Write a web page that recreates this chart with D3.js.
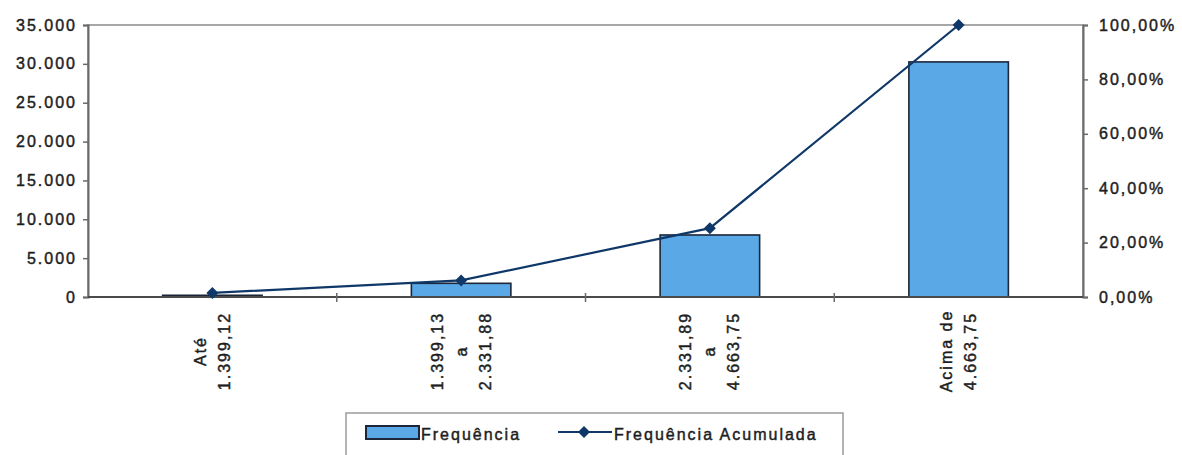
<!DOCTYPE html>
<html>
<head>
<meta charset="utf-8">
<script src="https://cdn.jsdelivr.net/npm/d3@7"></script>
<style>
  html, body { margin: 0; padding: 0; background: #fff; }
  svg { display: block; }
  text { font-family: "Liberation Sans", Arial, sans-serif; font-size: 16px; letter-spacing: 2px; fill: #1e1e1e; stroke: #1e1e1e; stroke-width: 0.45px; }
</style>
</head>
<body>
<svg id="chart" width="1182" height="455"></svg>
<script>
// Faixas salariais (R$) e respectivas frequências
const categories = [
  ["Até", "1.399,12"],
  ["1.399,13", "a", "2.331,88"],
  ["2.331,89", "a", "4.663,75"],
  ["Acima de", "4.663,75"]
];
const frequencia = [220, 1760, 7980, 30250];
const acumulada = [0.015, 0.061, 0.253, 1.0];
const leftTicks = [0, 5000, 10000, 15000, 20000, 25000, 30000, 35000];
const rightTicks = [0, 0.2, 0.4, 0.6, 0.8, 1.0];
const legendLabels = ["Frequência", "Frequência Acumulada"];

const br = d3.formatLocale({ decimal: ",", thousands: ".", grouping: [3], currency: ["R$", ""] });
const fmtNum = br.format(",.0f");
const fmtPct = br.format(".2%");

const svg = d3.select("#chart");
const plot = { left: 88, right: 1083, top: 25, bottom: 297 };
const keys = categories.map((_, i) => i);

const x = d3.scaleBand().domain(keys).range([plot.left, plot.right])
  .paddingInner(0.6).paddingOuter(0.3);
const yL = d3.scaleLinear().domain([0, 35000]).range([plot.bottom, plot.top]);
const yR = d3.scaleLinear().domain([0, 1]).range([plot.bottom, plot.top]);

const axisColor = "#6a6a6a";

// Plot frame
svg.append("rect")
  .attr("x", plot.left).attr("y", plot.top)
  .attr("width", plot.right - plot.left).attr("height", plot.bottom - plot.top)
  .attr("fill", "none").attr("stroke", "#8a8a8a").attr("stroke-width", 1.5);

// Left axis
const gL = svg.append("g").attr("transform", `translate(${plot.left},0)`)
  .call(d3.axisLeft(yL).tickValues(leftTicks).tickFormat(fmtNum).tickSize(5).tickPadding(8));
gL.select(".domain").attr("stroke", axisColor).attr("stroke-width", 2);
gL.selectAll(".tick line").attr("stroke", axisColor).attr("stroke-width", 1.5);
gL.selectAll(".tick text").attr("font-size", 16).attr("fill", "#1e1e1e")
  .attr("font-family", '"Liberation Sans", Arial, sans-serif').attr("dx", 2);

// Right axis
const gR = svg.append("g").attr("transform", `translate(${plot.right},0)`)
  .call(d3.axisRight(yR).tickValues(rightTicks).tickFormat(fmtPct).tickSize(5).tickPadding(11));
gR.select(".domain").attr("stroke", axisColor).attr("stroke-width", 2);
gR.selectAll(".tick line").attr("stroke", axisColor).attr("stroke-width", 1.5);
gR.selectAll(".tick text").attr("font-size", 16).attr("fill", "#1e1e1e")
  .attr("font-family", '"Liberation Sans", Arial, sans-serif');

// Bars
svg.append("g").selectAll("rect").data(frequencia).join("rect")
  .attr("x", (d, i) => x(i))
  .attr("y", d => yL(d))
  .attr("width", x.bandwidth())
  .attr("height", d => yL(0) - yL(d))
  .attr("fill", "#5aa9e6")
  .attr("stroke", "#1c2638")
  .attr("stroke-width", 1.6);

// Bottom axis line and category separators
svg.append("line")
  .attr("x1", plot.left).attr("x2", plot.right)
  .attr("y1", plot.bottom).attr("y2", plot.bottom)
  .attr("stroke", "#4a4a4a").attr("stroke-width", 2);
svg.append("g").selectAll("line").data(keys.slice(1)).join("line")
  .attr("x1", i => x(i) - x.step() * x.paddingInner() / 2)
  .attr("x2", i => x(i) - x.step() * x.paddingInner() / 2)
  .attr("y1", plot.bottom - 4).attr("y2", plot.bottom + 5)
  .attr("stroke", axisColor).attr("stroke-width", 1.5);

// Category labels (rotated, multi-line)
const cx = i => x(i) + x.bandwidth() / 2;
const lab = svg.append("g").selectAll("g").data(categories).join("g")
  .attr("transform", (d, i) => `translate(${cx(i)},352) rotate(-90)`);
lab.selectAll("text").data(d => d.map((t, j) => ({ t, j, n: d.length }))).join("text")
  .attr("x", 1)
  .attr("y", d => (d.j - (d.n - 1) / 2) * 24)
  .attr("text-anchor", "middle")
  .attr("dominant-baseline", "central")
  .text(d => d.t);

// Cumulative line with square markers turned 45°
const lineColor = "#0f3868";
const marker = d3.symbol().type(d3.symbolSquare).size(72);
svg.append("path")
  .datum(acumulada)
  .attr("fill", "none").attr("stroke", lineColor).attr("stroke-width", 2.2)
  .attr("d", d3.line().x((d, i) => cx(i)).y(d => yR(d)));
svg.append("g").selectAll("path").data(acumulada).join("path")
  .attr("transform", (d, i) => `translate(${cx(i)},${yR(d)}) rotate(45)`)
  .attr("d", marker).attr("fill", lineColor);

// Legend
const lg = svg.append("g");
lg.append("rect").attr("x", 346).attr("y", 413).attr("width", 497).attr("height", 60)
  .attr("fill", "#fff").attr("stroke", "#9a9a9a").attr("stroke-width", 1.5);
lg.append("rect").attr("x", 366).attr("y", 426).attr("width", 53).attr("height", 13)
  .attr("fill", "#5aa9e6").attr("stroke", "#1c2638").attr("stroke-width", 2);
lg.append("text").attr("x", 421).attr("y", 440).text(legendLabels[0]);
lg.append("line").attr("x1", 558).attr("x2", 612).attr("y1", 432).attr("y2", 432)
  .attr("stroke", lineColor).attr("stroke-width", 2.2);
lg.append("path").attr("transform", "translate(584,432) rotate(45)").attr("d", marker).attr("fill", lineColor);
lg.append("text").attr("x", 614).attr("y", 440).text(legendLabels[1]);
</script>
</body>
</html>
